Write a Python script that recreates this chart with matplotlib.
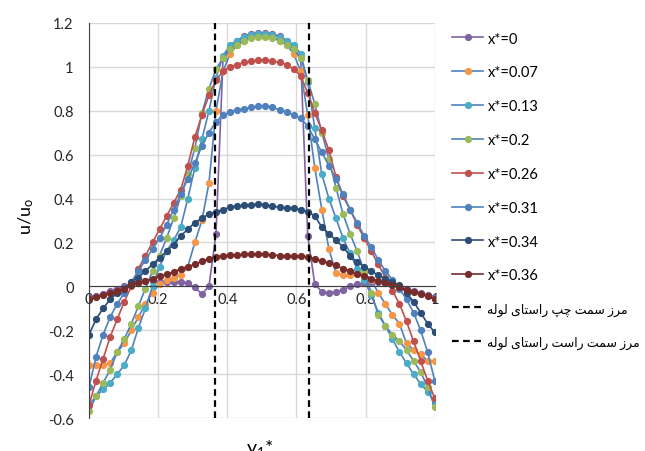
import numpy as np
import matplotlib
matplotlib.use("Agg")
import matplotlib.pyplot as plt

plt.rcParams['font.family'] = ['Lato', 'DejaVu Sans']
plt.rcParams['mathtext.default'] = 'regular'

# dimensionless position across the section (50 samples)
y1 = np.linspace(0, 1, 50)

u_x0 = [-0.05, -0.045, -0.035, -0.02, -0.01, 0.0, 0.01, 0.02, 0.025, 0.025,
        0.02, 0.02, 0.02, 0.02, 0.015, -0.005, -0.035, 0.0, 0.24, 1.04,
        1.09, 1.12, 1.14, 1.15, 1.155, 1.155, 1.15, 1.14, 1.12, 1.09,
        1.04, 0.23, 0.01, -0.025, -0.03, -0.025, -0.015, 0.0, 0.01, 0.015,
        0.02, 0.02, 0.015, 0.01, 0.0, -0.01, -0.02, -0.03, -0.04, -0.05]
u_x007 = [-0.36, -0.36, -0.36, -0.35, -0.3, -0.26, -0.2, -0.14, -0.08, -0.03,
          0.01, 0.03, 0.04, 0.05, 0.09, 0.2, 0.3, 0.47, 0.8, 0.98,
          1.06, 1.1, 1.12, 1.135, 1.14, 1.14, 1.135, 1.12, 1.1, 1.06,
          0.98, 0.78, 0.54, 0.35, 0.17, 0.06, 0.05, 0.05, 0.06, 0.06,
          0.03, -0.03, -0.08, -0.13, -0.17, -0.26, -0.29, -0.31, -0.34, -0.34]
u_x013 = [-0.54, -0.5, -0.47, -0.44, -0.4, -0.36, -0.29, -0.19, -0.1, 0.0,
          0.09, 0.16, 0.21, 0.27, 0.4, 0.54, 0.67, 0.8, 0.95, 1.05,
          1.1, 1.12, 1.135, 1.145, 1.15, 1.15, 1.145, 1.135, 1.12, 1.1,
          1.06, 0.93, 0.72, 0.51, 0.4, 0.31, 0.22, 0.15, 0.08, 0.03,
          -0.04, -0.12, -0.18, -0.24, -0.3, -0.35, -0.4, -0.445, -0.48, -0.53]
u_x02 = [-0.57, -0.5, -0.44, -0.38, -0.3, -0.24, -0.17, -0.09, -0.01, 0.07,
         0.14, 0.22, 0.31, 0.41, 0.51, 0.63, 0.79, 0.9, 0.99, 1.04,
         1.08, 1.1, 1.12, 1.13, 1.135, 1.135, 1.13, 1.12, 1.1, 1.08,
         1.04, 0.94, 0.83, 0.7, 0.58, 0.45, 0.33, 0.24, 0.16, 0.07,
         -0.03, -0.13, -0.18, -0.22, -0.25, -0.29, -0.34, -0.39, -0.46, -0.55]
u_x026 = [-0.54, -0.43, -0.33, -0.23, -0.15, -0.07, 0.0, 0.08, 0.14, 0.2,
          0.26, 0.32, 0.38, 0.44, 0.55, 0.68, 0.78, 0.87, 0.94, 0.98,
          1.0, 1.01, 1.02, 1.025, 1.03, 1.03, 1.025, 1.02, 1.01, 0.99,
          0.96, 0.88, 0.79, 0.71, 0.62, 0.5, 0.41, 0.35, 0.28, 0.22,
          0.16, 0.1, 0.04, -0.02, -0.08, -0.16, -0.25, -0.34, -0.43, -0.51]
u_x031 = [-0.46, -0.32, -0.22, -0.14, -0.08, -0.03, 0.02, 0.07, 0.12, 0.17,
          0.22, 0.28, 0.35, 0.42, 0.49, 0.56, 0.64, 0.7, 0.75, 0.78,
          0.795, 0.805, 0.81, 0.815, 0.82, 0.82, 0.815, 0.805, 0.795, 0.78,
          0.765, 0.73, 0.67, 0.61, 0.55, 0.49, 0.42, 0.35, 0.29, 0.23,
          0.18, 0.12, 0.07, 0.03, -0.01, -0.06, -0.12, -0.2, -0.3, -0.43]
u_x034 = [-0.22, -0.15, -0.1, -0.06, -0.03, -0.01, 0.02, 0.04, 0.07, 0.1,
          0.13, 0.16, 0.19, 0.23, 0.26, 0.29, 0.31, 0.33, 0.34, 0.35,
          0.36, 0.365, 0.37, 0.372, 0.375, 0.372, 0.365, 0.36, 0.358, 0.356,
          0.35, 0.34, 0.32, 0.27, 0.24, 0.21, 0.18, 0.14, 0.11, 0.09,
          0.07, 0.05, 0.035, 0.02, 0.005, -0.03, -0.07, -0.12, -0.17, -0.21]
u_x036 = [-0.06, -0.05, -0.04, -0.03, -0.02, -0.01, 0.005, 0.015, 0.025, 0.035,
          0.045, 0.055, 0.065, 0.08, 0.09, 0.1, 0.115, 0.125, 0.135, 0.14,
          0.142, 0.144, 0.145, 0.145, 0.145, 0.145, 0.143, 0.14, 0.138, 0.138,
          0.136, 0.134, 0.125, 0.115, 0.105, 0.095, 0.08, 0.07, 0.055, 0.045,
          0.035, 0.025, 0.015, 0.005, -0.005, -0.015, -0.025, -0.035, -0.045, -0.06]

labels = ['x*=0', 'x*=0.07', 'x*=0.13', 'x*=0.2', 'x*=0.26', 'x*=0.31', 'x*=0.34', 'x*=0.36']
profiles = [u_x0, u_x007, u_x013, u_x02, u_x026, u_x031, u_x034, u_x036]
line_colors = ['#8064A2', '#4F81BD', '#4F81BD', '#4F81BD', '#C0504D', '#4F81BD', '#2C4D75', '#772C2A']
marker_colors = ['#8064A2', '#F79646', '#4BACC6', '#9BBB59', '#C0504D', '#4F81BD', '#2C4D75', '#772C2A']

# pipe wall positions
walls = [0.365, 0.635]
# "مرز سمت چپ راستای لوله" / "مرز سمت راست راستای لوله" in joined forms, reversed for LTR drawing
wall_left = ('\uFEE3\uFEAE\uFEAF \uFEB3\uFEE4\uFE96 \uFB7C\uFB57 '
             '\uFEAD\uFE8D\uFEB3\uFE98\uFE8E\uFBFC \uFEDF\uFEEE\uFEDF\uFEEA')[::-1]
wall_right = ('\uFEE3\uFEAE\uFEAF \uFEB3\uFEE4\uFE96 \uFEAD\uFE8D\uFEB3\uFE96 '
              '\uFEAD\uFE8D\uFEB3\uFE98\uFE8E\uFBFC \uFEDF\uFEEE\uFEDF\uFEEA')[::-1]

fig = plt.figure(figsize=(6.45, 4.52), dpi=100)
ax = fig.add_axes([0.138, 0.073, 0.536, 0.874])

for u, lab, lc, mc in zip(profiles, labels, line_colors, marker_colors):
    ax.plot(y1, u, color=lc, lw=1.2, marker='o', ms=4.2, mfc=mc, mec=mc, label=lab)

ax.axvline(walls[0], color='black', lw=1.6, ls=(0, (3, 2)), label=wall_left)
ax.axvline(walls[1], color='black', lw=1.6, ls=(0, (3, 2)), label=wall_right)

ax.set_xlim(0, 1)
ax.set_ylim(-0.6, 1.2)
ax.set_xticks([0, 0.2, 0.4, 0.6, 0.8, 1])
ax.set_xticklabels(['0', '0.2', '0.4', '0.6', '0.8', '1'])
ax.set_yticks([-0.6, -0.4, -0.2, 0, 0.2, 0.4, 0.6, 0.8, 1, 1.2])
ax.set_yticklabels(['-0.6', '-0.4', '-0.2', '0', '0.2', '0.4', '0.6', '0.8', '1', '1.2'])
ax.grid(True, color='#D9D9D9', lw=1)
ax.set_axisbelow(True)

ax.spines['top'].set_visible(False)
ax.spines['right'].set_visible(False)
ax.spines['left'].set_color('#404040')
ax.spines['bottom'].set_position(('data', 0))
ax.spines['bottom'].set_color('#404040')
ax.tick_params(length=0, labelsize=10.5, colors='#262626')
ax.tick_params(axis='y', pad=11)
ax.tick_params(axis='x', pad=4)

fig.text(0.040, 0.52, 'u/u$_o$', rotation=90, ha='center', va='center', fontsize=13)
fig.text(0.403, 0.030, 'y$_1$*', ha='center', va='top', fontsize=14)

leg = fig.legend(loc='upper left', bbox_to_anchor=(0.69, 0.944), frameon=False,
                 fontsize=10.5, handlelength=2.1, handletextpad=0.3, labelspacing=1.36,
                 borderpad=0)
for t in leg.get_texts()[8:]:
    t.set_fontsize(9)

fig.savefig('out.png', dpi=100)
